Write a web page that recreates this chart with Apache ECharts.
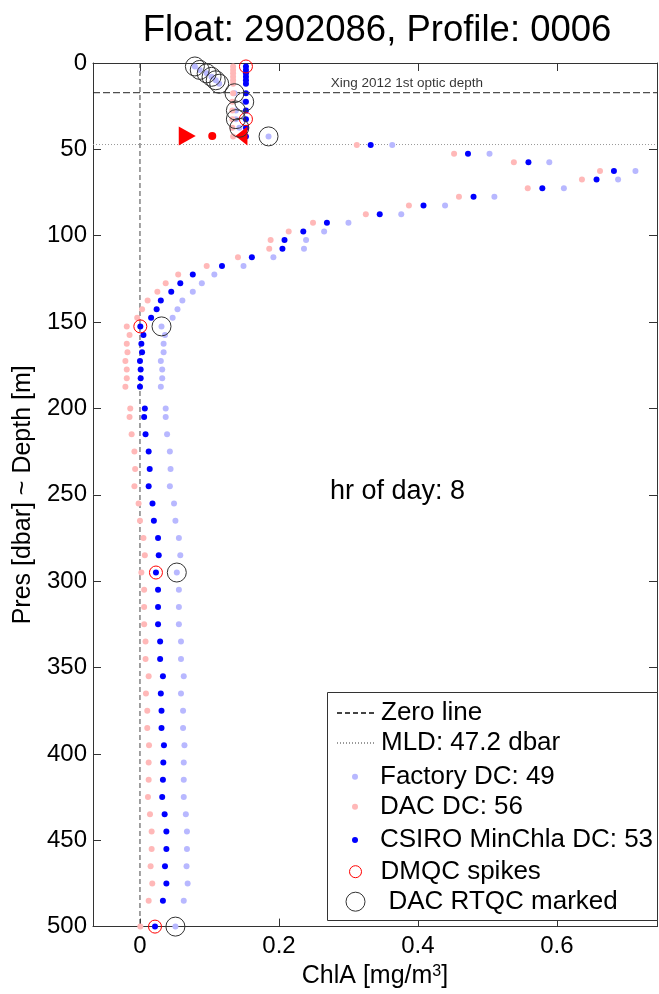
<!DOCTYPE html>
<html>
<head>
<meta charset="utf-8">
<script src="https://cdn.jsdelivr.net/npm/echarts@6/dist/echarts.min.js"></script>
<style>html,body{margin:0;padding:0;background:#fff}#c{width:659px;height:994px}</style>
</head>
<body>
<div id="c"></div>
<script>
// ---- data ----
const pres = [2,4,6,8,10,12,17.5,22.5,27.5,32.5,37.5,42.5,
  47.5,52.5,57.5,62.5,67.5,72.5,77.5,82.5,87.5,92.5,97.5,102.5,107.5,112.5,117.5,122.5,127.5,132.5,137.5,142.5,147.5,152.5,157.5,162.5,167.5,172.5,177.5,182.5,187.5,
  200,205,215,225,235,245,255,265,275,285,295,305,315,325,335,345,355,365,375,385,395,405,415,425,435,445,455,465,475,485,500];
const factoryDC = [0.079,0.086,0.096,0.103,0.109,0.114,0.136,0.150,0.138,0.138,0.143,0.185,
  0.363,0.503,0.589,0.713,0.688,0.610,0.510,0.439,0.376,0.300,0.265,0.239,0.236,0.192,0.149,0.107,0.089,0.076,0.061,0.054,0.047,0.031,0.036,0.034,0.034,0.030,0.032,0.032,0.030,
  0.037,0.037,0.039,0.043,0.044,0.043,0.049,0.051,0.056,0.058,0.053,0.056,0.056,0.056,0.059,0.059,0.063,0.059,0.062,0.062,0.064,0.063,0.063,0.063,0.066,0.0676,0.0676,0.067,0.0686,0.063,0.051];
const dacDC = [0.134,0.134,0.134,0.134,0.134,0.134,0.134,0.133,0.133,0.133,0.133,0.134,
  0.312,0.452,0.538,0.662,0.636,0.558,0.459,0.387,0.325,0.249,0.214,0.188,0.186,0.141,0.096,0.055,0.037,0.025,0.011,0.003,-0.004,-0.019,-0.015,-0.019,-0.018,-0.021,-0.019,-0.019,-0.021,
  -0.014,-0.015,-0.012,-0.008,-0.007,-0.008,-0.002,0.000,0.005,0.007,0.002,0.006,0.006,0.006,0.008,0.008,0.0125,0.0086,0.0105,0.0105,0.013,0.0125,0.0125,0.0115,0.0144,0.0168,0.0168,0.0153,0.0177,0.0125,0.0005];
const csiroDC = [0.1525,0.1525,0.1525,0.1525,0.1525,0.1525,0.1525,0.1525,0.1525,0.1525,0.1525,0.1525,
  0.332,0.472,0.559,0.682,0.657,0.579,0.480,0.408,0.345,0.269,0.235,0.208,0.205,0.161,0.118,0.076,0.058,0.045,0.030,0.024,0.016,0.0005,0.005,0.002,0.003,0.000,0.001,0.001,0.000,
  0.007,0.006,0.008,0.0125,0.014,0.0125,0.018,0.020,0.026,0.027,0.023,0.026,0.026,0.026,0.029,0.029,0.033,0.030,0.031,0.031,0.0345,0.0336,0.033,0.032,0.0355,0.038,0.038,0.036,0.038,0.033,0.0216];
const dmqcPres = [2, 32.5, 152.5, 295, 500];          // DMQC spikes (on CSIRO values)
const rtqcPres = [2,4,6,8,10,12,17.5,22.5,27.5,32.5,37.5,42.5,152.5,295,500]; // DAC RTQC marked (on Factory values)
const mldPres = 47.2;
const xingPres = 17.2;
const hrOfDay = 8;
const markerPres = 42.2;
const markerChla = [0.068, 0.104, 0.146];   // right triangle, dot, left triangle
const xTicks = [0, 0.2, 0.4, 0.6];
const xMin = -0.0676, xMax = 0.744;
const yMin = 0, yMax = 500, yStep = 50;

const FONT = '"Liberation Sans", Arial, Helvetica, sans-serif';
const pts = arr => pres.map((p, i) => [arr[i], p]);
const pick = (list, arr) => list.map(p => [arr[pres.indexOf(p)], p]);

const chart = echarts.init(document.getElementById('c'), null, {renderer: 'canvas'});

const axisLine = {show: true, onZero: false, lineStyle: {color: '#333', width: 1}};
const tickStyle = {color: '#333', width: 1};
const noSym = {itemStyle: {color: 'rgba(0,0,0,0)', borderColor: 'rgba(0,0,0,0)', borderWidth: 0, opacity: 0}};

function leg(name, top, left, w, h, extra) {
  return Object.assign({
    data: [name], orient: 'vertical', left: left, top: top, z: 20,
    itemWidth: w, itemHeight: h, itemGap: 0, padding: 0,
    selectedMode: false,
    textStyle: {fontSize: 26, color: '#000', fontFamily: FONT, lineHeight: 30}
  }, extra || {});
}

const option = {
  animation: false,
  backgroundColor: '#fff',
  textStyle: {fontFamily: FONT},
  title: {
    text: 'Float: 2902086, Profile: 0006',
    left: 372, top: 7, textAlign: 'center',
    textStyle: {fontSize: 36.5, fontWeight: 'normal', color: '#000', fontFamily: FONT}
  },
  grid: {left: 93, top: 63, right: 2, bottom: 67, containLabel: false},
  xAxis: [{
    type: 'value', min: xMin, max: xMax, position: 'bottom',
    axisLine: axisLine,
    axisTick: {show: true, inside: true, length: 8, lineStyle: tickStyle, customValues: xTicks},
    axisLabel: {customValues: xTicks, fontSize: 24, color: '#000', margin: 8, fontFamily: FONT,
      formatter: v => (Math.abs(v) < 1e-9 ? '0' : String(+v.toFixed(1)))},
    splitLine: {show: false},
    name: 'ChlA [mg/m{sup|3}]', nameLocation: 'middle', nameGap: 34,
    nameTextStyle: {fontSize: 25, color: '#000', fontFamily: FONT,
      rich: {sup: {fontSize: 16, verticalAlign: 'top', color: '#000', fontFamily: FONT, padding: [0, 0, 10, 0]}}}
  }, {
    type: 'value', min: xMin, max: xMax, position: 'top',
    axisLine: axisLine,
    axisTick: {show: true, inside: true, length: 8, lineStyle: tickStyle, customValues: xTicks},
    axisLabel: {show: false}, splitLine: {show: false}
  }],
  yAxis: [{
    type: 'value', inverse: true, min: yMin, max: yMax, interval: yStep, position: 'left',
    axisLine: axisLine,
    axisTick: {show: true, inside: true, length: 8, lineStyle: tickStyle},
    axisLabel: {fontSize: 24, color: '#000', margin: 6, fontFamily: FONT},
    splitLine: {show: false},
    name: 'Pres [dbar] ~ Depth [m]', nameLocation: 'middle', nameGap: 51, nameRotate: 90,
    nameTextStyle: {fontSize: 25, color: '#000', fontFamily: FONT}
  }, {
    type: 'value', inverse: true, min: yMin, max: yMax, interval: yStep, position: 'right',
    axisLine: axisLine,
    axisTick: {show: true, inside: true, length: 8, lineStyle: tickStyle},
    axisLabel: {show: false}, splitLine: {show: false}
  }],
  legend: [
    leg('Zero line', 698, 336, 39, 10, noSym),
    leg('MLD: 47.2 dbar', 728, 336, 39, 10, noSym),
    leg('Factory DC: 49', 761.7, 352, 40, 6),
    leg('DAC DC: 56', 791.7, 352, 40, 6),
    leg('CSIRO MinChla DC: 53', 825, 352, 40, 6),
    leg('DMQC spikes', 856.7, 349, 40, 12,
      {itemStyle: {color: 'rgba(0,0,0,0)', borderColor: '#ff0000', borderWidth: 1}}),
    leg('DAC RTQC marked', 886.7, 345.5, 56, 19,
      {itemStyle: {color: 'rgba(0,0,0,0)', borderColor: '#333', borderWidth: 1}})
  ],
  graphic: [
    {type: 'rect', left: 327, top: 692, shape: {width: 330, height: 228}, z: 1,
      style: {fill: '#fff', stroke: '#333', lineWidth: 1}},
    {type: 'text', left: 330, top: 478, z: 50,
      style: {text: 'hr of day: ' + hrOfDay, fontSize: 27, fill: '#000', fontFamily: FONT}}
  ],
  series: [
    {name: 'Zero line', type: 'line', symbol: 'none', z: 2,
      data: [[0, yMin], [0, yMax]],
      lineStyle: {color: '#444', width: 1, type: [5, 3]}},
    {name: 'MLD: 47.2 dbar', type: 'line', symbol: 'none', z: 2,
      data: [[xMin, mldPres], [xMax, mldPres]],
      lineStyle: {color: '#999', width: 1, type: [1, 2]}},
    {name: 'Xing', type: 'line', symbol: 'none', z: 2,
      data: [[xMin, xingPres], [xMax, xingPres]],
      lineStyle: {color: '#222', width: 1, type: [7, 3]}},
    {name: 'XingLabel', type: 'scatter', symbolSize: 1, z: 3,
      itemStyle: {color: 'rgba(0,0,0,0)'},
      data: [[0.384, xingPres]],
      label: {show: true, position: 'top', distance: 2, formatter: 'Xing 2012 1st optic depth',
        fontSize: 13.5, color: '#000', fontFamily: FONT}},
    {name: 'Factory DC: 49', type: 'scatter', symbolSize: 6, z: 4,
      itemStyle: {color: '#b8b8ff', opacity: 1}, data: pts(factoryDC)},
    {name: 'DAC DC: 56', type: 'scatter', symbolSize: 6, z: 4,
      itemStyle: {color: '#ffb8b8', opacity: 1}, data: pts(dacDC)},
    {name: 'CSIRO MinChla DC: 53', type: 'scatter', symbolSize: 6, z: 5,
      itemStyle: {color: '#0000ff', opacity: 1}, data: pts(csiroDC)},
    {name: 'markers', type: 'scatter', z: 6,
      itemStyle: {color: '#ff0000', opacity: 1},
      data: [
        {value: [markerChla[0], markerPres], symbol: 'triangle', symbolSize: [19, 17], symbolRotate: -90},
        {value: [markerChla[1], markerPres], symbol: 'circle', symbolSize: 8},
        {value: [markerChla[2], markerPres], symbol: 'triangle', symbolSize: [19, 12], symbolRotate: 90}
      ]},
    {name: 'DMQC spikes', type: 'scatter', symbolSize: 13, z: 7,
      itemStyle: {color: 'rgba(0,0,0,0)', borderColor: '#ff0000', borderWidth: 1, opacity: 1},
      data: pick(dmqcPres, csiroDC)},
    {name: 'DAC RTQC marked', type: 'scatter', symbolSize: 19, z: 7,
      itemStyle: {color: 'rgba(0,0,0,0)', borderColor: '#333', borderWidth: 1, opacity: 1},
      data: pick(rtqcPres, factoryDC)}
  ]
};
chart.setOption(option);
</script>
</body>
</html>
